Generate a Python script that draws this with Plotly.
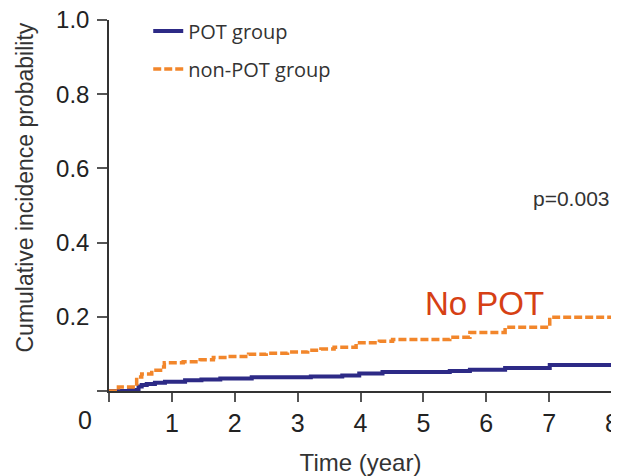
import plotly.graph_objects as go

# Step-function data (time in years, cumulative incidence)
pot_time = [0, 0.32, 0.47, 0.52, 0.60, 0.73, 0.89, 1.21, 1.47, 1.77, 2.27, 3.21,
            3.71, 3.98, 4.35, 5.42, 5.74, 6.30, 7.01, 8.0]
pot_prob = [0, 0.003, 0.012, 0.016, 0.019, 0.022, 0.025, 0.029, 0.031, 0.034, 0.037,
            0.039, 0.042, 0.047, 0.051, 0.054, 0.057, 0.062, 0.070, 0.070]

nonpot_time = [0, 0.15, 0.44, 0.52, 0.68, 0.82, 0.88, 1.18, 1.45, 1.66, 1.90, 2.22,
               2.50, 2.84, 3.16, 3.37, 3.58, 3.93, 4.30, 4.51, 5.42, 5.74, 6.30, 7.01, 8.0]
nonpot_prob = [0, 0.011, 0.038, 0.046, 0.056, 0.065, 0.076, 0.079, 0.084, 0.090, 0.093,
               0.099, 0.102, 0.105, 0.110, 0.113, 0.118, 0.130, 0.134, 0.139, 0.145,
               0.158, 0.172, 0.199, 0.199]

x_ticks = [0, 1, 2, 3, 4, 5, 6, 7, 8]
x_labels = ["", "1", "2", "3", "4", "5", "6", "7", "8"]
y_ticks = [0, 0.2, 0.4, 0.6, 0.8, 1.0]
y_labels = ["", "0.2", "0.4", "0.6", "0.8", "1.0"]

BLUE = "#2D2A86"
ORANGE = "#F2862B"
FONT = "Liberation Sans, Arial, sans-serif"

fig = go.Figure()
fig.add_trace(go.Scatter(x=pot_time, y=pot_prob, mode="lines", name="POT group",
                         line=dict(color=BLUE, width=4, shape="hv"),
                         legendgroup="a"))
fig.add_trace(go.Scatter(x=nonpot_time, y=nonpot_prob, mode="lines", name="non-POT group",
                         line=dict(color=ORANGE, width=3.5, shape="hv", dash="8px,3px"),
                         legendgroup="b"))

fig.add_annotation(x=7.36, y=0.519, xref="x", yref="y", text="p=0.003", showarrow=False,
                   font=dict(family=FONT, size=21, color="#333333"))
fig.add_annotation(x=5.98, y=0.235, xref="x", yref="y", text="No POT", showarrow=False,
                   font=dict(family=FONT, size=33, color="#D64014"))
fig.add_annotation(x=0, y=0, xref="x", yref="paper", text="0", showarrow=False,
                   xshift=-24, yshift=-29, yanchor="middle",
                   font=dict(family=FONT, size=25, color="#222222"))
# y-axis title (sits slightly above the axis centre in the reference)
fig.add_annotation(x=-0.167, y=0.5485, xref="paper", yref="paper",
                   text="Cumulative incidence probability", showarrow=False,
                   textangle=-90, xanchor="center", yanchor="middle",
                   font=dict(family=FONT, size=23, color="#333333"))

# The page body adds an 8px offset, so the figure is 8px smaller and margins compensate.
fig.update_layout(
    width=611, height=468,
    margin=dict(l=101, r=7, t=12, b=85, autoexpand=False),
    paper_bgcolor="white", plot_bgcolor="white",
    showlegend=True,
    legend=dict(x=0.078, y=1.023, xanchor="left", yanchor="top",
                font=dict(family="Open Sans, sans-serif", size=20, color="#333333"),
                bgcolor="rgba(0,0,0,0)", tracegroupgap=9, traceorder="grouped"),
    xaxis=dict(range=[0, 8], tickvals=x_ticks, ticktext=x_labels, ticks="outside",
               ticklen=9, tickwidth=1.5, tickcolor="#555555", showline=True,
               linecolor="#333333", linewidth=1.5, showgrid=False, zeroline=False,
               automargin=False, ticklabeloverflow="allow",
               tickfont=dict(family=FONT, size=25, color="#222222"),
               title=dict(text="Time (year)", standoff=19,
                          font=dict(family=FONT, size=24, color="#333333"))),
    yaxis=dict(range=[0, 1], tickvals=y_ticks, ticktext=y_labels, ticks="outside",
               ticklen=10, tickwidth=1.5, tickcolor="#555555", showline=True,
               linecolor="#333333", linewidth=1.5, showgrid=False, zeroline=False,
               ticklabelstandoff=3, automargin=False, ticklabeloverflow="allow",
               tickfont=dict(family=FONT, size=24, color="#222222")),
)

fig.write_html("out.html")
